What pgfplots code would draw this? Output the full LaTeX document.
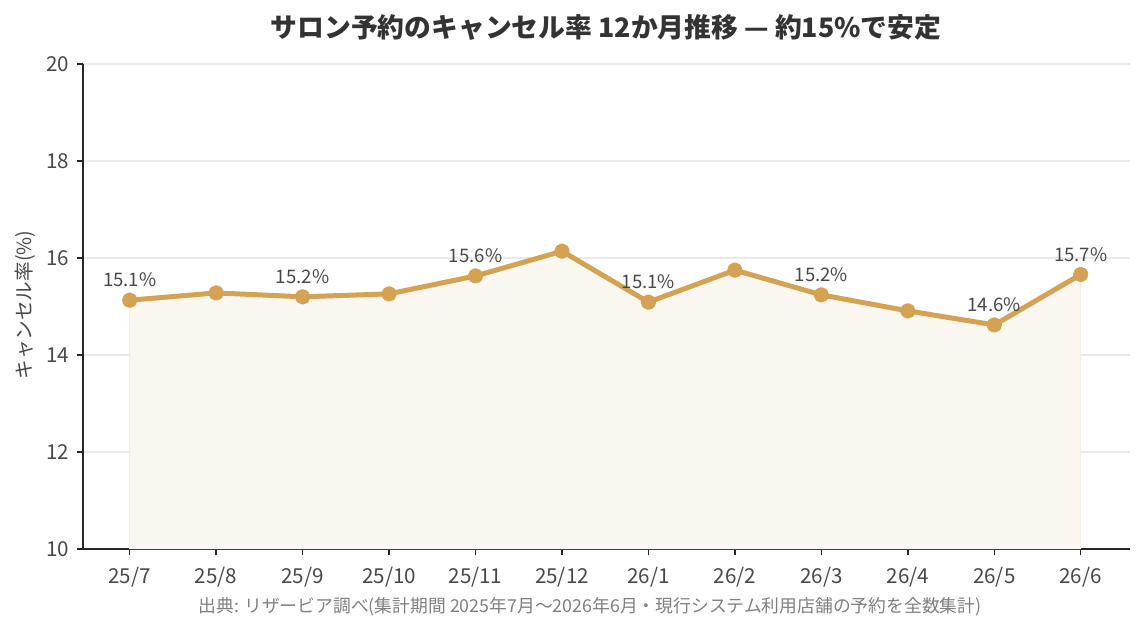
\documentclass[border=0pt]{standalone}
\usepackage{pgfplots}
\pgfplotsset{compat=1.18}
\usepackage{fontspec}
\setmainfont{Noto Sans CJK JP}
\definecolor{gold}{RGB}{212,162,82}
\definecolor{goldfill}{RGB}{250,247,240}
\definecolor{txt}{RGB}{72,72,72}
\definecolor{ttl}{RGB}{51,51,51}
\definecolor{gridc}{RGB}{234,234,234}
\begin{document}
\begin{tikzpicture}
\begin{axis}[
  scale only axis,
  width=523.5pt, height=242.5pt,
  xmin=-0.54, xmax=11.57,
  ymin=10, ymax=20,
  ytick={10,12,...,20},
  xtick={0,...,11},
  xticklabels={25/7,25/8,25/9,25/10,25/11,25/12,26/1,26/2,26/3,26/4,26/5,26/6},
  axis x line*=bottom, axis y line*=left,
  axis line style={color=black!85, line width=0.8pt, -},
  tick style={color=black!85, line width=0.7pt},
  tick align=outside,
  major tick length=3pt,
  ymajorgrids, grid style={color=gridc, line width=0.6pt},
  /pgf/number format/assume math mode=true,
  ticklabel style={font=\fontsize{10.3}{12}\selectfont, text=txt},
  yticklabel style={xshift=-0.5pt},
  xticklabel style={yshift=-2.5pt},
  clip=false,
]
\addplot[draw=none, fill=goldfill] coordinates {
(0,15.13) (1,15.28) (2,15.20) (3,15.26) (4,15.63) (5,16.14) (6,15.09) (7,15.75) (8,15.24) (9,14.91) (10,14.62) (11,15.66)} \closedcycle;
\addplot[draw=gold!18, line width=0.5pt] coordinates {(0,10) (0,15.13)};
\addplot[draw=gold!18, line width=0.5pt] coordinates {(11,10) (11,15.66)};
\addplot[gold, line width=2.5pt, line join=round, mark=*, mark size=2.6pt, mark options={solid, fill=gold, draw=none}] coordinates {
(0,15.13) (1,15.28) (2,15.20) (3,15.26) (4,15.63) (5,16.14) (6,15.09) (7,15.75) (8,15.24) (9,14.91) (10,14.62) (11,15.66)};
\addplot[draw=none, mark=none, point meta=explicit symbolic, nodes near coords,
  every node near coord/.style={font=\fontsize{9.3}{11}\selectfont, text=txt, anchor=south, yshift=3pt}] coordinates {
(0,15.13) [15.1\%] (2,15.20) [15.2\%] (4,15.63) [15.6\%] (6,15.09) [15.1\%] (8,15.24) [15.2\%] (10,14.62) [14.6\%] (11,15.66) [15.7\%]};
\end{axis}
\node[font=\fontsize{9.8}{12}\selectfont, text=txt, rotate=90] at (-29pt,122pt) {キャンセル率(\%)};
\node[font=\bfseries\fontsize{13.4}{16}\selectfont, text=ttl] at (261.5pt,260.5pt) {サロン予約のキャンセル率 12か月推移 — 約15\%で安定};
\node[font=\fontsize{8.9}{11}\selectfont, text=black!50] at (253.5pt,-29pt) {出典: リザービア調べ(集計期間 2025年7月〜2026年6月・現行システム利用店舗の予約を全数集計)};
\useasboundingbox (-41.5pt,-41.5pt) rectangle (530.5pt,274.5pt);
\end{tikzpicture}
\end{document}
